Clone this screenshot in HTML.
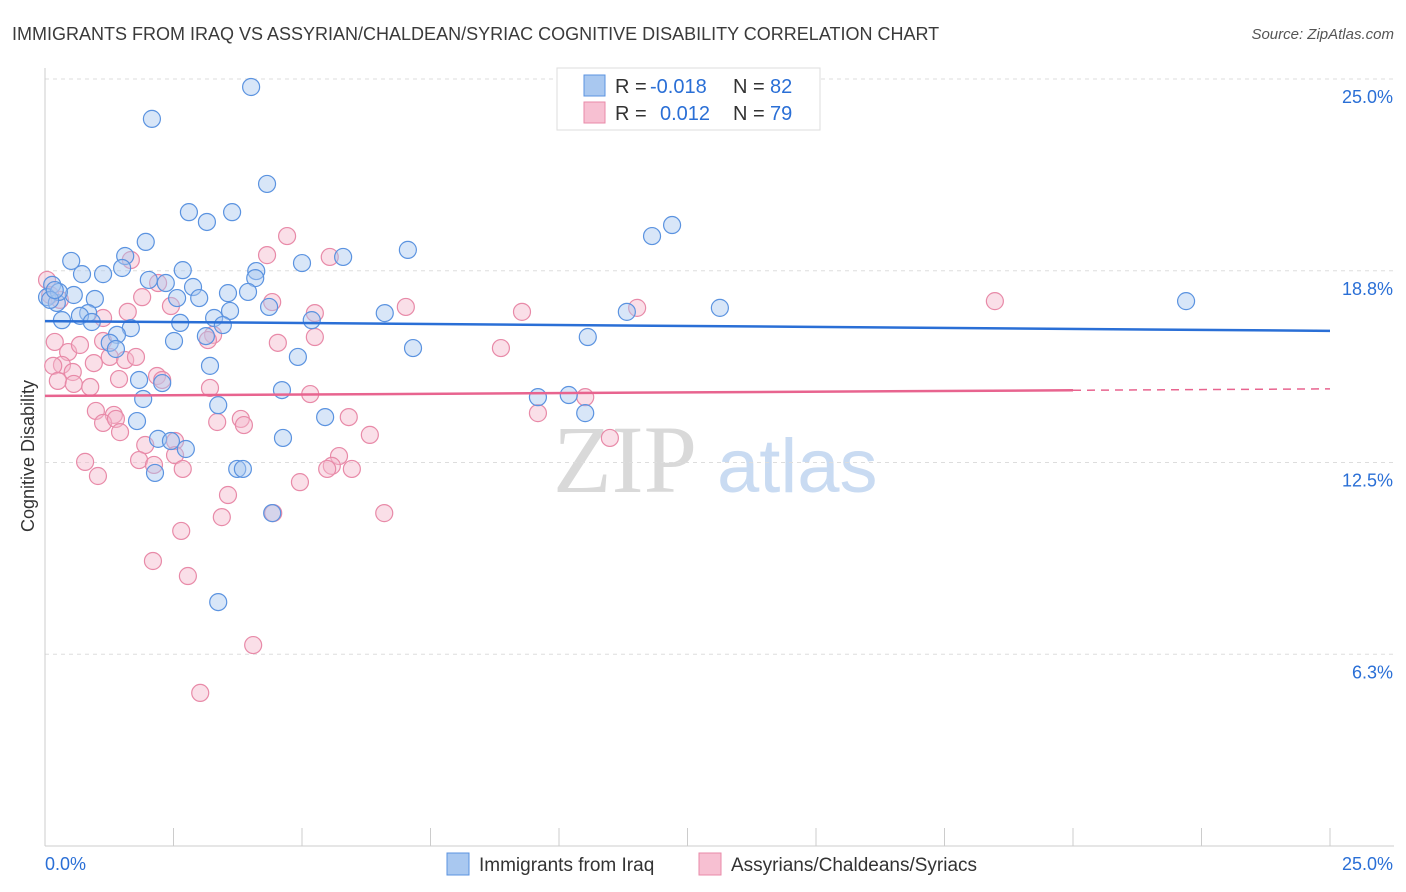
<!DOCTYPE html>
<html><head><meta charset="utf-8">
<style>
body{margin:0;background:#fff;font-family:"Liberation Sans",sans-serif;}
svg{display:block}
</style></head><body>
<svg width="1406" height="892" viewBox="0 0 1406 892" xmlns="http://www.w3.org/2000/svg" font-family="Liberation Sans, sans-serif">
<text x="12" y="40" font-size="18" fill="#3a3a3a">IMMIGRANTS FROM IRAQ VS ASSYRIAN/CHALDEAN/SYRIAC COGNITIVE DISABILITY CORRELATION CHART</text>
<text x="1394" y="39" font-size="15" fill="#555" text-anchor="end" font-style="italic">Source: ZipAtlas.com</text>
<g>
<text x="553" y="492" font-size="96" fill="#d9d9d9" font-family="Liberation Serif, serif">ZIP</text>
<text x="717" y="492" font-size="76" fill="#c9dbf2">atlas</text>
</g>
<g id="grid"></g>
<g id="axes"></g>
<g id="pts"></g>
<g id="trend"></g>
<text transform="translate(34,456) rotate(-90)" font-size="18" fill="#333" text-anchor="middle">Cognitive Disability</text>
<g>
<rect x="557" y="68" width="263" height="62" fill="#fff" stroke="#ddd"/>
<rect x="584" y="75" width="21" height="21" fill="#a9c8f0" stroke="#5b93e0"/>
<rect x="584" y="102" width="21" height="21" fill="#f7c0d2" stroke="#e88aa8"/>
<text x="615" y="93" font-size="20" fill="#333">R = </text><text x="650" y="93" font-size="20" fill="#2a6fd6">-0.018</text>
<text x="733" y="93" font-size="20" fill="#333">N = </text><text x="770" y="93" font-size="20" fill="#2a6fd6">82</text>
<text x="615" y="120" font-size="20" fill="#333">R = </text><text x="660" y="120" font-size="20" fill="#2a6fd6">0.012</text>
<text x="733" y="120" font-size="20" fill="#333">N = </text><text x="770" y="120" font-size="20" fill="#2a6fd6">79</text>
</g>
<g>
<rect x="447" y="853" width="22" height="22" fill="#a9c8f0" stroke="#5b93e0"/>
<text x="479" y="871" font-size="19" fill="#333">Immigrants from Iraq</text>
<rect x="699" y="853" width="22" height="22" fill="#f7c0d2" stroke="#e88aa8"/>
<text x="731" y="871" font-size="19" fill="#333">Assyrians/Chaldeans/Syriacs</text>
</g>
</svg>
<script>
const blueX=[4.01,2.08,4.32,2.80,3.64,3.15,12.20,11.81,7.06,1.96,5.80,5.00,0.51,1.56,1.50,2.68,1.13,0.72,4.11,4.09,2.02,2.35,0.14,2.88,3.56,3.95,0.04,0.56,0.97,2.57,3.00,0.23,0.84,0.68,4.36,6.61,3.60,3.29,0.33,0.91,2.63,3.46,5.19,11.32,13.13,22.20,1.67,1.40,2.51,3.13,1.26,1.38,7.16,10.56,4.92,3.21,1.83,2.28,1.91,4.61,9.59,10.19,3.37,10.51,5.45,1.79,2.20,2.45,2.74,4.63,2.14,3.74,3.85,4.42,3.37,0.27,0.10,0.19];
const blueY=[24.74,23.70,21.58,20.66,20.66,20.34,20.24,19.88,19.43,19.69,19.20,19.00,19.07,19.23,18.84,18.77,18.64,18.64,18.74,18.51,18.45,18.35,18.29,18.22,18.02,18.06,17.89,17.96,17.83,17.86,17.86,17.70,17.37,17.28,17.57,17.37,17.44,17.21,17.14,17.08,17.05,16.98,17.14,17.41,17.54,17.76,16.88,16.66,16.46,16.62,16.40,16.20,16.23,16.59,15.94,15.65,15.19,15.09,14.57,14.86,14.63,14.70,14.37,14.11,13.98,13.85,13.27,13.20,12.94,13.30,12.16,12.29,12.29,10.85,7.95,18.06,17.80,18.12];
const pinkX=[4.71,5.54,4.32,1.67,2.20,2.45,1.89,4.42,7.02,5.25,9.28,11.52,18.48,1.13,1.61,1.13,0.19,0.45,0.68,3.27,3.17,4.53,5.25,8.87,0.33,0.16,1.26,1.56,1.77,0.95,0.54,2.18,2.28,1.44,0.25,0.56,0.88,3.21,5.16,10.51,0.99,1.34,1.13,1.38,1.46,3.35,3.81,3.87,5.91,9.59,6.32,10.99,1.95,2.53,5.72,1.83,0.78,2.53,2.12,2.68,5.58,5.49,5.97,1.03,4.96,3.56,4.44,6.60,3.44,2.65,2.10,2.78,4.05,3.02,0.04,0.29,0.10];
const pinkY=[19.88,19.20,19.26,19.10,18.35,17.60,17.89,17.73,17.57,17.37,17.41,17.54,17.76,17.21,17.41,16.46,16.43,16.10,16.33,16.66,16.49,16.40,16.59,16.23,15.68,15.65,15.94,15.84,15.94,15.74,15.45,15.32,15.19,15.22,15.16,15.06,14.96,14.93,14.73,14.63,14.18,14.05,13.79,13.92,13.49,13.82,13.92,13.72,13.98,14.11,13.40,13.30,13.07,13.20,12.71,12.58,12.52,12.74,12.42,12.29,12.39,12.29,12.29,12.06,11.86,11.44,10.85,10.85,10.72,10.27,9.29,8.80,6.55,4.99,18.45,17.80,17.96];
const yTicks=[25.0,18.75,12.5,6.25];
const yTickLabels=["25.0%","18.8%","12.5%","6.3%"];
const xTicks=[0,2.5,5,7.5,10,12.5,15,17.5,20,22.5,25];
const blueTrend=[17.11,16.79];
const pinkTrend=[14.67,14.90];
const pinkSolidEnd=20;

const NS="http://www.w3.org/2000/svg";
const X=v=>45+v*51.4, Y=v=>846-v*30.68;
function mk(tag,attrs,parent){const e=document.createElementNS(NS,tag);for(const k in attrs)e.setAttribute(k,attrs[k]);parent.appendChild(e);return e;}
const grid=document.getElementById('grid'),axes=document.getElementById('axes'),pts=document.getElementById('pts'),trend=document.getElementById('trend');
yTicks.forEach((t,i)=>{
 const l=mk('line',{x1:45,x2:1394,y1:Y(t),y2:Y(t),stroke:'#ddd','stroke-dasharray':'4,4'},grid);
 
 
 const tx=mk('text',{x:1393,y:Y(t)+24,'font-size':18,fill:'#2a6fd6','text-anchor':'end'},axes);
 tx.textContent=yTickLabels[i];
 
 
});
mk('line',{x1:45,x2:45,y1:68,y2:846,stroke:'#ccc'},axes);
mk('line',{x1:45,x2:1394,y1:846,y2:846,stroke:'#ccc'},axes);
xTicks.forEach(t=>{
 const l=mk('line',{x1:X(t),x2:X(t),y1:828,y2:846,stroke:'#ccc'},axes);
 
 
});
const x0=mk('text',{x:45,y:870,'font-size':18,fill:'#2a6fd6'},axes);x0.textContent="0.0%";


const x1=mk('text',{x:1393,y:870,'font-size':18,fill:'#2a6fd6','text-anchor':'end'},axes);x1.textContent="25.0%";


function dots(xs,ys,fill,stroke,name){xs.forEach((v,i)=>{
 const c=mk('circle',{cx:X(v),cy:Y(ys[i]),r:8.5,fill:fill,'fill-opacity':0.45,stroke:stroke,'stroke-width':1.2},pts);
 
 
});}
dots(pinkX,pinkY,'#f5b8cc','#e88aa8','point-assyrian');
dots(blueX,blueY,'#a9c8f0','#5b93e0','point-iraq');
const bt=mk('line',{x1:X(0),y1:Y(blueTrend[0]),x2:X(25),y2:Y(blueTrend[1]),stroke:'#2a6fd6','stroke-width':2.5},trend);


const py=x=>pinkTrend[0]+(pinkTrend[1]-pinkTrend[0])*x/25;
const pt=mk('line',{x1:X(0),y1:Y(py(0)),x2:X(pinkSolidEnd),y2:Y(py(pinkSolidEnd)),stroke:'#e8648f','stroke-width':2.5},trend);


const pd=mk('line',{x1:X(pinkSolidEnd),y1:Y(py(pinkSolidEnd)),x2:X(25),y2:Y(py(25)),stroke:'#e8648f','stroke-width':1.5,'stroke-dasharray':'8,6'},trend);


</script>
</body></html>
